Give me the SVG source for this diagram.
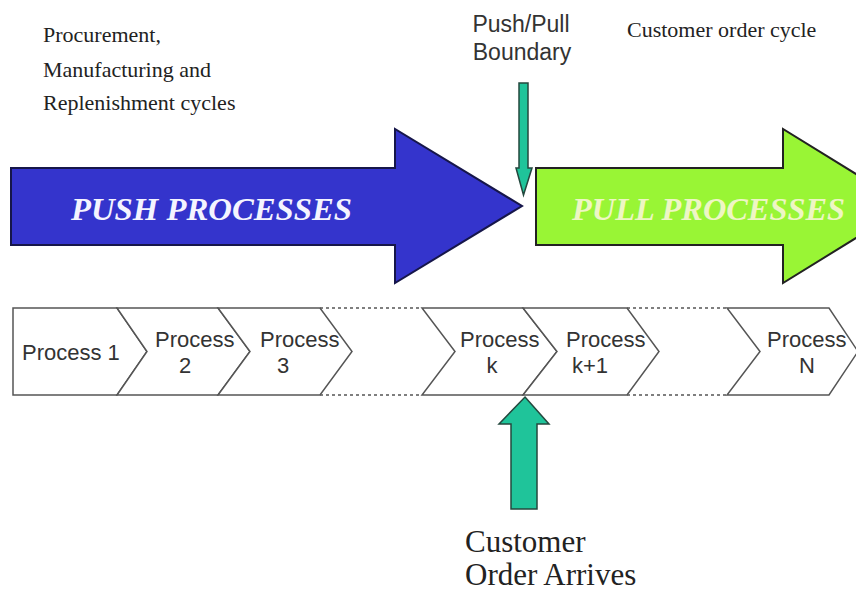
<svg xmlns="http://www.w3.org/2000/svg" width="856" height="595" viewBox="0 0 856 595">
  <style>
    .serif { font-family: "Liberation Serif", "Times New Roman", serif; fill: #222; }
    .sans { font-family: "Liberation Sans", Arial, sans-serif; fill: #333; }
    .cap { font-size: 22px; }
    .big { font-family: "Liberation Serif", "Times New Roman", serif; font-size: 32px; font-weight: bold; font-style: italic; }
    .proc { font-family: "Liberation Sans", Arial, sans-serif; font-size: 22px; fill: #333; }
    .chev { fill: #ffffff; stroke: #555; stroke-width: 1.5; stroke-linejoin: miter; }
    .dots { stroke: #555; stroke-width: 1.5; stroke-dasharray: 3 3; fill: none; }
    .teal { fill: #1fc49a; stroke: #24483e; stroke-width: 1.5; }
  </style>
  <rect width="856" height="595" fill="#ffffff"/>

  <!-- captions -->
  <g id="push-caption">
    <text class="serif cap" x="43" y="42">Procurement,</text>
    <text class="serif cap" x="43" y="77">Manufacturing and</text>
    <text class="serif cap" x="43" y="110">Replenishment cycles</text>
  </g>
  <g id="boundary-label">
    <text class="sans" font-size="23" text-anchor="middle" x="521" y="32">Push/Pull</text>
    <text class="sans" font-size="23" text-anchor="middle" x="522" y="60">Boundary</text>
  </g>
  <g id="pull-caption">
    <text class="serif cap" x="627" y="37">Customer order cycle</text>
  </g>

  <!-- big process arrows -->
  <g id="push-arrow">
    <path d="M11,168 H395 V129 L522,206 L395,283 V245 H11 Z" fill="#3434cc" stroke="#16164a" stroke-width="2"/>
    <text class="big" x="71" y="220" fill="#f4f4ff" textLength="281" lengthAdjust="spacingAndGlyphs">PUSH PROCESSES</text>
  </g>
  <g id="pull-arrow">
    <path d="M536,168 H783 V129 L908,206 L783,283 V245 H536 Z" fill="#99f535" stroke="#222" stroke-width="2"/>
    <text class="big" x="572" y="220" fill="#eef6c4" textLength="273" lengthAdjust="spacingAndGlyphs">PULL PROCESSES</text>
  </g>

  <!-- process chain -->
  <g id="process-1">
    <path class="chev" d="M13,308 H117 L147,351.5 L117,395 H13 Z"/>
    <text class="proc" x="22" y="360">Process 1</text>
  </g>
  <g id="process-2">
    <path class="chev" d="M117,308 H218 L250,351.5 L218,395 H117 L147,351.5 Z"/>
    <text class="proc" x="155" y="347">Process</text>
    <text class="proc" x="185" y="373" text-anchor="middle">2</text>
  </g>
  <g id="process-3">
    <path class="chev" d="M218,308 H320 L352,351.5 L320,395 H218 L250,351.5 Z"/>
    <text class="proc" x="260" y="347">Process</text>
    <text class="proc" x="283" y="373" text-anchor="middle">3</text>
  </g>
  <g id="process-k">
    <path class="chev" d="M422,308 H523 L557,351.5 L523,395 H422 L455,351.5 Z"/>
    <text class="proc" x="460" y="347">Process</text>
    <text class="proc" x="492" y="373" text-anchor="middle">k</text>
  </g>
  <g id="process-k1">
    <path class="chev" d="M523,308 H627 L659,351.5 L627,395 H523 L557,351.5 Z"/>
    <text class="proc" x="566" y="347">Process</text>
    <text class="proc" x="572" y="373">k+1</text>
  </g>
  <g id="process-n">
    <path class="chev" d="M727,308 H829 L858,351.5 L829,395 H727 L760,351.5 Z"/>
    <text class="proc" x="767" y="347">Process</text>
    <text class="proc" x="807" y="373" text-anchor="middle">N</text>
  </g>

  <g id="customer-label">
    <text class="serif" font-size="31" x="465" y="552">Customer</text>
    <text class="serif" font-size="31" x="465" y="585">Order Arrives</text>
  </g>

  <!-- connectors: elided stages and pointer arrows -->
  <g id="connectors">
    <path class="dots" d="M320,308 H422 M320,395 H422 M627,308 H727 M627,395 H727"/>
    <path class="teal" d="M519,83 H528 V168 H532 L523.5,195 L516,168 H519 Z"/>
    <path class="teal" d="M525,397 L549,424 H537 V509 H511 V424 H499 Z"/>
  </g>
</svg>
